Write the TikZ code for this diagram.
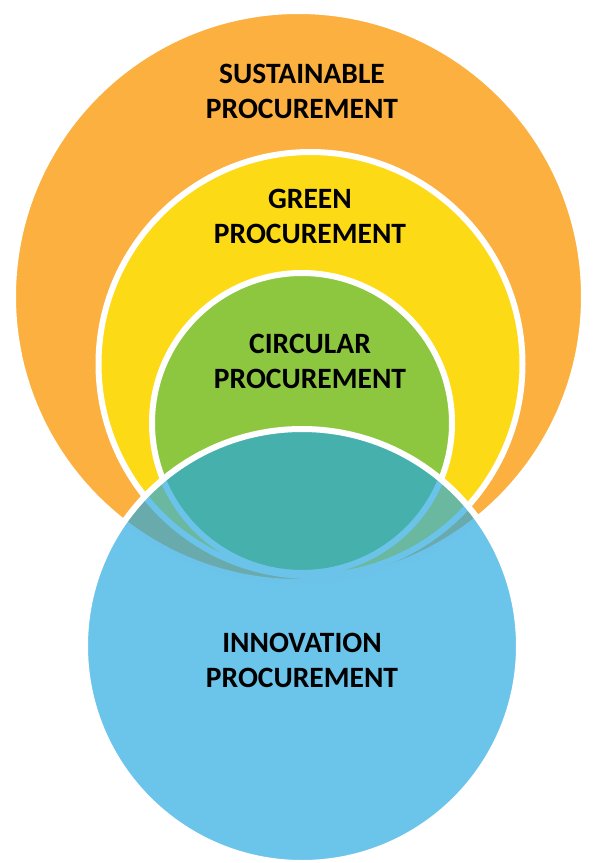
\documentclass[tikz,border=0pt]{standalone}
\usepackage{fontspec}
\setmainfont{Carlito}
\definecolor{sorange}{RGB}{251,176,64}
\definecolor{syellow}{RGB}{253,218,22}
\definecolor{sgreen}{RGB}{141,198,63}
\definecolor{sblue}{RGB}{37,168,224}
\begin{document}
\begin{tikzpicture}[x=1pt,y=-1pt,
  ring/.style={circle, draw=white, line width=6pt, inner sep=0pt, outer sep=0pt},
  lbl/.style={align=center, font=\fontsize{29.5}{35}\selectfont\bfseries, text=black, inner sep=0pt}]
\useasboundingbox (0,0) rectangle (596,863);
\node[ring, fill=sorange, minimum size=571pt] (sus) at (298.5,296.5) {};
\node[ring, fill=syellow, minimum size=424pt] (gre) at (310.5,364) {};
\node[ring, fill=sgreen, minimum size=300pt] (cir) at (302,423) {};
\node[ring, fill=sblue, fill opacity=0.68, draw opacity=1, minimum size=434pt] (inn) at (302,646) {};
\node[lbl] (tsus) at (302,91) {SUSTAINABLE\\PROCUREMENT};
\node[lbl] (tgre) at (310,216) {GREEN\\PROCUREMENT};
\node[lbl] (tcir) at (310,361) {CIRCULAR\\PROCUREMENT};
\node[lbl] (tinn) at (302,660) {INNOVATION\\PROCUREMENT};
\end{tikzpicture}
\end{document}
